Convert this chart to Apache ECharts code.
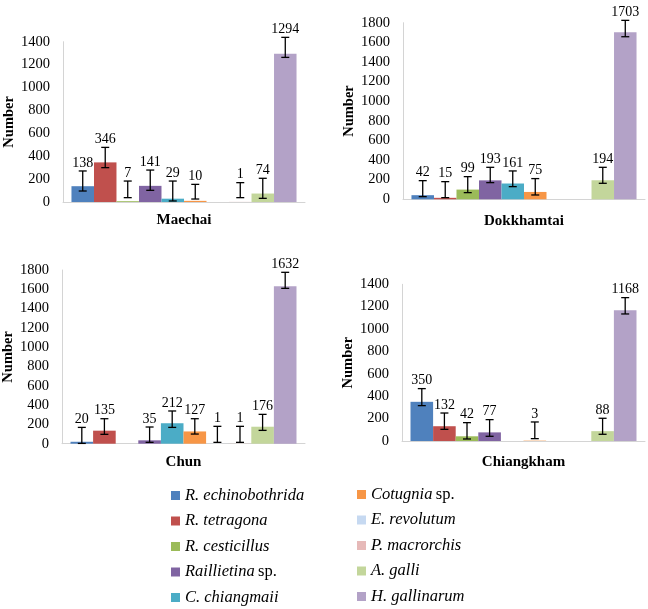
<!DOCTYPE html>
<html>
<head>
<meta charset="utf-8">
<script src="https://cdn.jsdelivr.net/npm/echarts@6/dist/echarts.min.js"></script>
<style>html,body{margin:0;padding:0;background:#fff}#c{width:648px;height:609px}</style>
</head>
<body>
<div id="c"></div>
<script>
const species = ['R. echinobothrida','R. tetragona','R. cesticillus','Raillietina sp.','C. chiangmaii',
                 'Cotugnia sp.','E. revolutum','P. macrorchis','A. galli','H. gallinarum'];
const colors = ['#4F81BD','#C0504D','#9BBB59','#8064A2','#4BACC6','#F79646','#C6D9F1','#E6B9B8','#C3D69B','#B3A2C7'];
const sites = ['Maechai','Dokkhamtai','Chun','Chiangkham'];

const maechaiValues  = [138,346,7,141,29,10,0,1,74,1294];
const maechaiErrLow  = [96,300,38,102,9,26,null,38,32,1263];
const maechaiErrHigh = [271,477,183,279,183,154,null,169,207,1438];

const dokkhamtaiValues  = [42,15,99,193,161,75,0,0,194,1703];
const dokkhamtaiErrLow  = [27,17,68,170,129,44,null,null,163,1657];
const dokkhamtaiErrHigh = [190,180,231,326,289,211,null,null,326,1824];

const chunValues  = [20,135,0,35,212,127,1,1,176,1632];
const chunErrLow  = [3,97,null,14,169,100,14,14,138,1610];
const chunErrHigh = [169,259,null,173,339,259,180,180,304,1776];

const chiangkhamValues  = [350,132,42,77,0,3,0,0,88,1168];
const chiangkhamErrLow  = [316,104,18,42,null,21,null,null,60,1135];
const chiangkhamErrHigh = [468,250,164,191,null,170,null,null,203,1281];

const yMax = [1400,1800,1800,1400];
const yTicks = 200;

const panels = [
  [maechaiValues, maechaiErrLow, maechaiErrHigh],
  [dokkhamtaiValues, dokkhamtaiErrLow, dokkhamtaiErrHigh],
  [chunValues, chunErrLow, chunErrHigh],
  [chiangkhamValues, chiangkhamErrLow, chiangkhamErrHigh]
];

const FONT = '"Liberation Serif", "Times New Roman", serif';
const GAP = 0.07;
const grids = [
  {left:63, top:41.7, width:242, height:160.3},
  {left:403, top:22.7, width:242, height:176.6},
  {left:62, top:270, width:243, height:173.7},
  {left:402, top:284.3, width:243, height:156.7}
];
const xNameGap = [11, 14, 11, 14];

const xAxes = [], yAxes = [], series = [];
sites.forEach((site, gi) => {
  xAxes.push({
    gridIndex: gi, type:'category', data:[site],
    axisLabel:{show:false}, axisTick:{show:false},
    axisLine:{lineStyle:{color:'#d4d4d4', width:1}},
    name: site, nameLocation:'middle', nameGap: xNameGap[gi],
    nameTextStyle:{fontFamily:FONT, fontWeight:'bold', fontSize:15, color:'#000'}
  });
  yAxes.push({
    gridIndex: gi, type:'value', min:0, max:yMax[gi], interval:yTicks,
    splitLine:{show:false}, axisTick:{show:false},
    axisLine:{show:true, lineStyle:{color:'#d4d4d4', width:1}},
    axisLabel:{fontFamily:FONT, fontSize:14.5, color:'#000', margin:13, formatter: v => String(v)},
    name:'Number', nameLocation:'middle', nameGap:46,
    nameTextStyle:{fontFamily:FONT, fontWeight:'bold', fontSize:14.5, color:'#000'}
  });
  const [vals, lo, hi] = panels[gi];
  species.forEach((sp, k) => {
    series.push({
      type:'bar', name: sp, xAxisIndex: gi, yAxisIndex: gi,
      data:[vals[k]], itemStyle:{color: colors[k]},
      barGap:'0%', barCategoryGap: (GAP*100)+'%'
    });
  });
  const errData = [];
  species.forEach((sp, k) => {
    if (lo[k] != null) errData.push([0, lo[k], hi[k], vals[k], k]);
  });
  series.push({
    type:'custom', xAxisIndex: gi, yAxisIndex: gi, clip:false, z:10,
    encode:{x:0, y:[1,2]},
    data: errData,
    renderItem: function(params, api){
      const lo = api.value(1), hi = api.value(2), v = api.value(3), k = api.value(4);
      const c0 = api.coord([0, lo]);
      const c1 = api.coord([0, hi]);
      const band = api.size([1, 0])[0];
      const bw = band * (1 - GAP) / species.length;
      const x = c0[0] + (k - (species.length - 1) / 2) * bw;
      const cap = 4;
      const st = {stroke:'#000', lineWidth:1.3};
      return {type:'group', children:[
        {type:'line', shape:{x1:x, y1:c0[1], x2:x, y2:c1[1]}, style:st},
        {type:'line', shape:{x1:x-cap, y1:c0[1], x2:x+cap, y2:c0[1]}, style:st},
        {type:'line', shape:{x1:x-cap, y1:c1[1], x2:x+cap, y2:c1[1]}, style:st},
        {type:'text', x:x, y:c1[1]-1, style:{text:String(v), align:'center', verticalAlign:'bottom',
          fontFamily:FONT, fontSize:14, fill:'#000'}}
      ]};
    }
  });
});

function legendFmt(name){
  if (name.endsWith(' sp.')) return '{i|' + name.slice(0, -4) + '} {n|sp.}';
  return '{i|' + name + '}';
}
const rich = {
  i:{fontFamily:FONT, fontStyle:'italic', fontSize:16.5, color:'#000', lineHeight:18},
  n:{fontFamily:FONT, fontStyle:'normal', fontSize:16.5, color:'#000', lineHeight:18}
};
const legendBase = {
  orient:'vertical', icon:'rect', itemWidth:9, itemHeight:9, itemGap:8.5, padding:0, height:122,
  formatter: legendFmt, textStyle:{rich: rich}, selectedMode:false
};

const chart = echarts.init(document.getElementById('c'), null, {renderer:'canvas'});
chart.setOption({
  animation:false,
  backgroundColor:'#fff',
  grid: grids,
  xAxis: xAxes,
  yAxis: yAxes,
  legend: [
    Object.assign({left:171, top:487, data: species.slice(0,5)}, legendBase),
    Object.assign({left:357, top:486, data: species.slice(5)}, legendBase)
  ],
  series: series
});
</script>
</body>
</html>
